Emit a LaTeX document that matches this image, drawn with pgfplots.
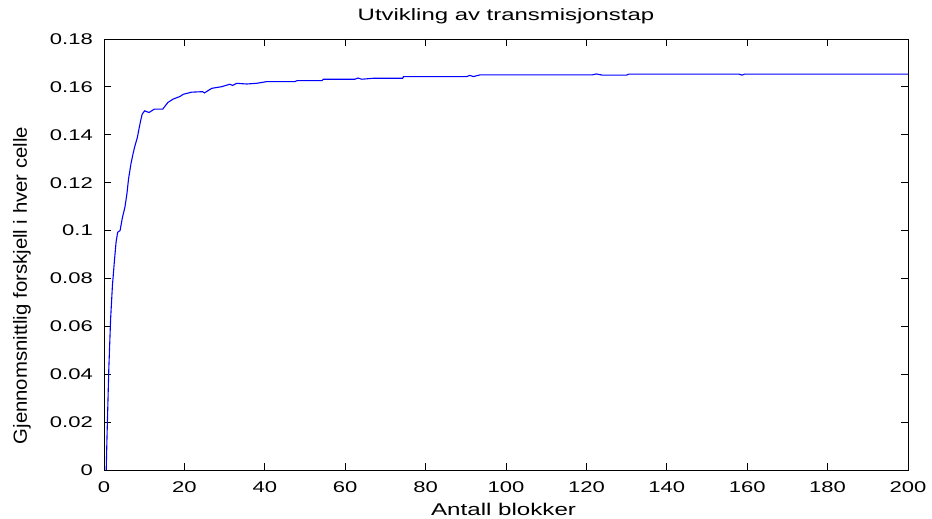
\documentclass[border=0pt]{standalone}
\usepackage{fontspec}
\setmainfont{Liberation Sans}
% MATLAB-style wide sans faces for the different text roles
\newfontfamily\tickfont[FakeStretch=1.42]{Liberation Sans}
\newfontfamily\titlefont[FakeStretch=1.45]{Liberation Sans}
\newfontfamily\xlabfont[FakeStretch=1.42]{Liberation Sans}
\newfontfamily\ylabfont[FakeStretch=1.07]{Liberation Sans}
\usepackage{pgfplots}
\pgfplotsset{compat=1.18}

\begin{document}
\begin{tikzpicture}
\begin{axis}[
  name=ax,
  scale only axis,
  width=804bp, height=431bp,
  xmin=0, xmax=200, ymin=0, ymax=0.18,
  xtick={0,20,40,60,80,100,120,140,160,180,200},
  ytick={0,0.02,0.04,0.06,0.08,0.1,0.12,0.14,0.16,0.18},
  scaled y ticks=false,
  tick align=inside,
  major tick length=7bp,
  axis line style={black, line width=0.9bp},
  every tick/.style={black, line width=0.9bp},
  /pgf/number format/assume math mode=true,
  yticklabel style={/pgf/number format/fixed, /pgf/number format/precision=2,
    font=\tickfont\fontsize{15.5bp}{17bp}\selectfont, anchor=east, inner sep=0pt, xshift=-11bp},
  xticklabel style={font=\tickfont\fontsize{15.5bp}{17bp}\selectfont, anchor=base, inner sep=0pt, yshift=-22bp},
  title={Utvikling av transmisjonstap},
  title style={font=\titlefont\fontsize{16.5bp}{18bp}\selectfont, at={(axis description cs:0.5,1)}, anchor=base, inner sep=0pt, yshift=12.5bp},
  xlabel={Antall blokker},
  xlabel style={font=\xlabfont\fontsize{17bp}{19bp}\selectfont, at={(axis description cs:0.497,0)}, anchor=base, inner sep=0pt, yshift=-45bp},
  ylabel={Gjennomsnittlig forskjell i hver celle},
  ylabel style={font=\ylabfont\fontsize{19bp}{21bp}\selectfont, at={(axis description cs:-0.102,0.428)}, anchor=center, inner sep=0pt},
]
\addplot[blue, line width=1.1bp] coordinates {
  (0.55,0) (0.75,0.0139) (1.2,0.0424) (1.65,0.0632) (2.1,0.0771)
  (2.6,0.0875) (3.0,0.0951) (3.4,0.0993) (4.0,0.1000) (4.6,0.1056)
  (5.2,0.1097) (5.7,0.1153) (6.1,0.1215) (6.7,0.1278) (7.2,0.1319)
  (7.7,0.1354) (8.3,0.1389) (8.7,0.1424) (9.1,0.1458) (9.5,0.1486)
  (10.1,0.1500) (11.2,0.1493) (12.5,0.1507) (14.6,0.1507) (15.9,0.1535)
  (17.2,0.1549) (18.9,0.1560) (19.7,0.1569) (21.8,0.1578) (24.5,0.1580)
  (25.0,0.1575) (26.8,0.1594) (29.3,0.1601) (31.3,0.1611) (32.0,0.1606)
  (33.0,0.1615) (35.5,0.1612) (38.0,0.1615) (40.5,0.1622) (47.5,0.1622)
  (48.0,0.1626) (54.2,0.1626) (54.6,0.1632) (62.4,0.1632) (63.2,0.1637)
  (64.1,0.1632) (67.0,0.1636) (74.3,0.1636) (74.5,0.1643) (90.2,0.1643)
  (91.0,0.1648) (91.9,0.1643) (93.5,0.1650) (121.4,0.1650) (122.5,0.1654)
  (124.0,0.1649) (130.0,0.1649) (130.5,0.1653) (158.0,0.1653) (158.7,0.1649)
  (159.3,0.1653) (200,0.1653)
};
\end{axis}
\pgfresetboundingbox
\useasboundingbox ([shift={(-104bp,-49bp)}]ax.south west) rectangle ([shift={(24bp,39bp)}]ax.north east);
\end{tikzpicture}
\end{document}
